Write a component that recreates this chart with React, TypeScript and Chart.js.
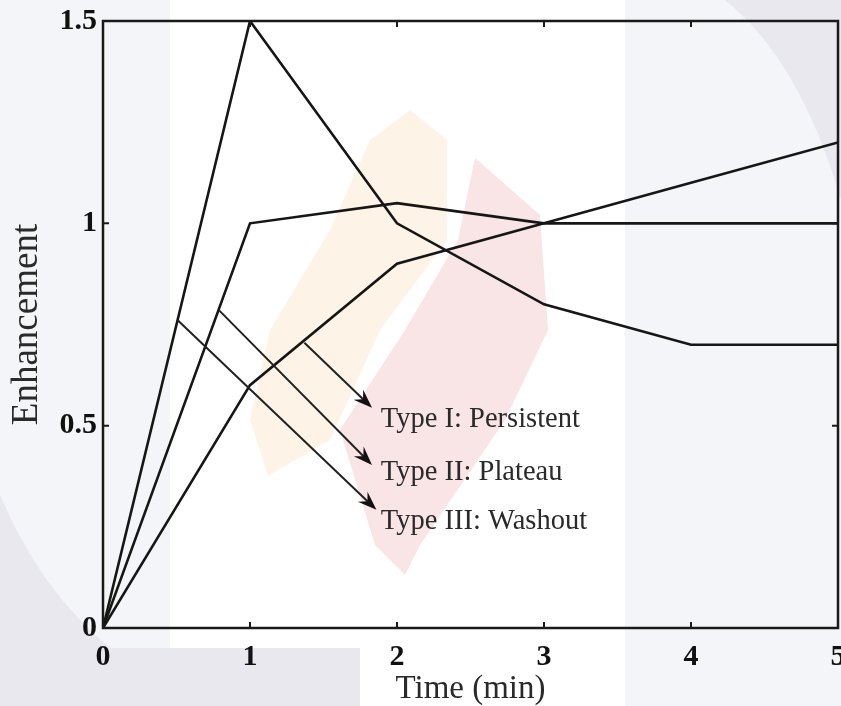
import React, { useEffect, useRef } from 'react';
import { Chart, registerables } from 'chart.js';

Chart.register(...registerables);

// ---- data ----
const timePoints = [0, 1, 2, 3, 4, 5];
const persistentValues = [0, 0.6, 0.9, 1.0, 1.1, 1.2];
const plateauValues = [0, 1.0, 1.05, 1.0, 1.0, 1.0];
const washoutValues = [0, 1.5, 1.0, 0.8, 0.7, 0.7];

const xTickValues = [0, 1, 2, 3, 4, 5];
const yTickValues = [0, 0.5, 1, 1.5];

const annotationLabels = ['Type I: Persistent', 'Type II: Plateau', 'Type III: Washout'];
const arrowFromX = [1.37, 0.79, 0.51];
const arrowFromY = [0.705, 0.785, 0.76];
const arrowToX = [1.83, 1.83, 1.86];
const arrowToY = [0.544, 0.403, 0.292];
const labelX = [1.89, 1.89, 1.89];
const labelY = [0.514, 0.383, 0.262];

const SERIF = '"Liberation Serif", "Times New Roman", serif';

const backgroundPlugin = {
  id: 'watermark',
  beforeDraw(chart: any) {
    const ctx = chart.ctx as CanvasRenderingContext2D;
    ctx.save();
    ctx.fillStyle = '#ffffff';
    ctx.fillRect(0, 0, chart.width, chart.height);
    // light grey panels
    ctx.fillStyle = '#f4f5f8';
    ctx.fillRect(0, 0, 170, 706);
    ctx.fillRect(625, 0, 216, 706);
    // darker grey bottom-left sweep
    ctx.fillStyle = '#e8e8ee';
    ctx.beginPath();
    ctx.moveTo(0, 495);
    ctx.quadraticCurveTo(40, 590, 110, 648);
    ctx.lineTo(360, 648);
    ctx.lineTo(360, 706);
    ctx.lineTo(0, 706);
    ctx.closePath();
    ctx.fill();
    // darker grey top-right sweep
    ctx.beginPath();
    ctx.moveTo(725, 0);
    ctx.quadraticCurveTo(800, 60, 841, 200);
    ctx.lineTo(841, 0);
    ctx.closePath();
    ctx.fill();
    // orange leaf
    ctx.fillStyle = '#fdf3e6';
    ctx.beginPath();
    ctx.moveTo(410, 110);
    ctx.lineTo(447, 140);
    ctx.lineTo(447, 240);
    ctx.lineTo(380, 330);
    ctx.lineTo(330, 440);
    ctx.lineTo(268, 476);
    ctx.lineTo(250, 420);
    ctx.lineTo(270, 330);
    ctx.lineTo(330, 230);
    ctx.lineTo(370, 140);
    ctx.closePath();
    ctx.fill();
    // pink leaf
    ctx.fillStyle = '#f9e4e6';
    ctx.beginPath();
    ctx.moveTo(475, 158);
    ctx.lineTo(540, 215);
    ctx.lineTo(548, 330);
    ctx.lineTo(505, 420);
    ctx.lineTo(420, 545);
    ctx.lineTo(405, 575);
    ctx.lineTo(375, 545);
    ctx.lineTo(340, 430);
    ctx.lineTo(405, 330);
    ctx.lineTo(458, 240);
    ctx.closePath();
    ctx.fill();
    ctx.restore();
  },
  afterDatasetsDraw(chart: any) {
    const ctx = chart.ctx as CanvasRenderingContext2D;
    const xs = chart.scales.x;
    const ys = chart.scales.y;
    const { left, right, top, bottom } = chart.chartArea;
    ctx.save();
    // frame
    ctx.strokeStyle = '#1a1a1a';
    ctx.lineWidth = 2.5;
    ctx.strokeRect(left, top, right - left, bottom - top);
    // inward ticks
    ctx.lineWidth = 2;
    const tl = 6;
    xTickValues.forEach((v) => {
      const px = xs.getPixelForValue(v);
      ctx.beginPath();
      ctx.moveTo(px, bottom);
      ctx.lineTo(px, bottom - tl);
      ctx.moveTo(px, top);
      ctx.lineTo(px, top + tl);
      ctx.stroke();
    });
    yTickValues.forEach((v) => {
      const py = ys.getPixelForValue(v);
      ctx.beginPath();
      ctx.moveTo(left, py);
      ctx.lineTo(left + tl, py);
      ctx.moveTo(right, py);
      ctx.lineTo(right - tl, py);
      ctx.stroke();
    });
    // arrows
    ctx.strokeStyle = '#222';
    ctx.lineWidth = 2;
    for (let i = 0; i < annotationLabels.length; i++) {
      const x0 = xs.getPixelForValue(arrowFromX[i]);
      const y0 = ys.getPixelForValue(arrowFromY[i]);
      const x1 = xs.getPixelForValue(arrowToX[i]);
      const y1 = ys.getPixelForValue(arrowToY[i]);
      const ang = Math.atan2(y1 - y0, x1 - x0);
      const hl = 19;
      const hw = 7;
      const bx = x1 - hl * Math.cos(ang);
      const by = y1 - hl * Math.sin(ang);
      ctx.beginPath();
      ctx.moveTo(x0, y0);
      ctx.lineTo(x1 - 8 * Math.cos(ang), y1 - 8 * Math.sin(ang));
      ctx.stroke();
      ctx.fillStyle = '#111';
      ctx.beginPath();
      ctx.moveTo(x1, y1);
      ctx.lineTo(bx + hw * Math.sin(ang), by - hw * Math.cos(ang));
      ctx.lineTo(x1 - 0.65 * hl * Math.cos(ang), y1 - 0.65 * hl * Math.sin(ang));
      ctx.lineTo(bx - hw * Math.sin(ang), by + hw * Math.cos(ang));
      ctx.closePath();
      ctx.fill();
      // label
      ctx.fillStyle = '#2a2a2a';
      ctx.font = `28.5px ${SERIF}`;
      ctx.textAlign = 'left';
      ctx.textBaseline = 'middle';
      ctx.fillText(annotationLabels[i], xs.getPixelForValue(labelX[i]), ys.getPixelForValue(labelY[i]));
    }
    ctx.restore();
  },
};

export default function App() {
  const ref = useRef<HTMLCanvasElement>(null);
  useEffect(() => {
    document.body.style.margin = '0';
    const lineStyle = {
      borderColor: '#161616',
      borderWidth: 2.6,
      pointRadius: 0,
      tension: 0,
      fill: false,
    };
    const chart = new Chart(ref.current as HTMLCanvasElement, {
      type: 'line',
      data: {
        datasets: [
          { label: 'Type I: Persistent', data: timePoints.map((t, i) => ({ x: t, y: persistentValues[i] })), ...lineStyle },
          { label: 'Type II: Plateau', data: timePoints.map((t, i) => ({ x: t, y: plateauValues[i] })), ...lineStyle },
          { label: 'Type III: Washout', data: timePoints.map((t, i) => ({ x: t, y: washoutValues[i] })), ...lineStyle },
        ],
      },
      options: {
        responsive: false,
        animation: false,
        devicePixelRatio: 1,
        layout: { padding: { top: 21, right: 3, left: 0, bottom: 0 } },
        plugins: { legend: { display: false }, tooltip: { enabled: false }, title: { display: false } },
        scales: {
          x: {
            type: 'linear',
            min: 0,
            max: 5,
            afterFit: (s: any) => { s.height = 78; s.paddingLeft = 0; s.paddingRight = 0; },
            afterBuildTicks: (s: any) => { s.ticks = xTickValues.map((v) => ({ value: v })); },
            grid: { display: false, drawTicks: false },
            border: { display: false },
            ticks: {
              autoSkip: false,
              maxRotation: 0,
              padding: 11,
              color: '#111',
              font: { family: SERIF, size: 30, weight: 'bold' },
              callback: (v: any) => String(v),
            },
            title: {
              display: true,
              text: 'Time (min)',
              color: '#2a2a2a',
              font: { family: SERIF, size: 33, lineHeight: 1 },
              padding: { top: 0, bottom: 0 },
            },
          },
          y: {
            type: 'linear',
            min: 0,
            max: 1.5,
            afterFit: (s: any) => { s.width = 103; s.paddingTop = 0; s.paddingBottom = 0; },
            afterBuildTicks: (s: any) => { s.ticks = yTickValues.map((v) => ({ value: v })); },
            grid: { display: false, drawTicks: false },
            border: { display: false },
            ticks: {
              autoSkip: false,
              padding: 6,
              color: '#111',
              font: { family: SERIF, size: 30, weight: 'bold' },
              callback: (v: any) => String(v),
            },
            title: {
              display: true,
              text: 'Enhancement',
              color: '#2a2a2a',
              font: { family: SERIF, size: 37, lineHeight: 1 },
              padding: { top: 9, bottom: 0 },
            },
          },
        },
      },
      plugins: [backgroundPlugin],
    } as any);
    return () => chart.destroy();
  }, []);
  return (
    <div style={{ width: 841, height: 706, position: 'relative' }}>
      <canvas ref={ref} width={841} height={706} style={{ display: 'block' }} />
    </div>
  );
}
